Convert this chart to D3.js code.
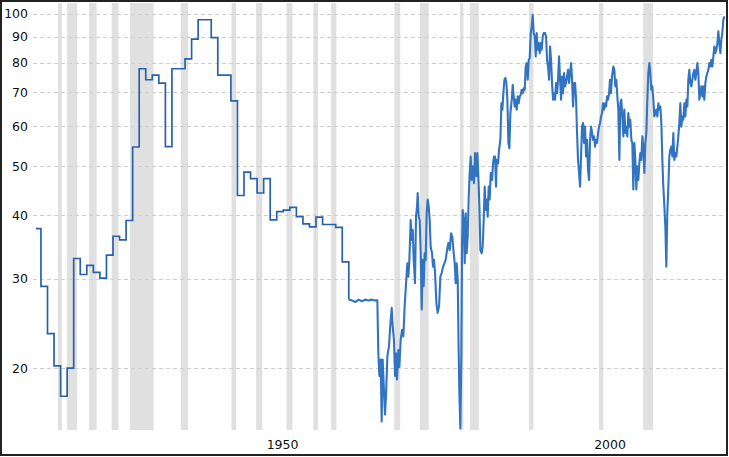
<!DOCTYPE html>
<html>
<head>
<meta charset="utf-8">
<script src="https://cdn.jsdelivr.net/npm/d3@7/dist/d3.min.js"></script>
<style>
  html, body { margin: 0; padding: 0; background: #fff; }
  svg { display: block; }
</style>
</head>
<body>
<svg id="chart" width="729" height="457"></svg>
<script>
// ---- Data ----
const yTicks = [20, 30, 40, 50, 60, 70, 80, 90, 100];
const xTickYears = [1950, 2000];

const recessionStart = [1918.6, 1920.0, 1923.35, 1926.8, 1929.6, 1937.35, 1945.1, 1948.85, 1953.5, 1957.6, 1960.3, 1969.95, 1973.85, 1980.0, 1981.5, 1990.5, 2001.2, 2007.95];
const recessionEnd   = [1919.2, 1921.5, 1924.5, 1927.85, 1933.2, 1938.45, 1945.8, 1949.8, 1954.4, 1958.3, 1961.1, 1970.85, 1975.2, 1980.5, 1982.85, 1991.2, 2001.85, 2009.45];

// annual values (drawn as steps)
const stepYears  = [1915.25, 1916, 1917, 1918, 1919, 1920, 1921, 1922, 1923, 1924, 1925, 1926, 1927, 1928, 1929, 1930, 1931, 1932, 1933, 1934, 1935, 1936, 1938, 1939, 1940, 1942, 1943, 1945, 1946, 1947, 1948, 1949, 1950, 1951, 1952, 1953, 1954, 1955, 1956, 1957, 1958, 1959, 1961, 1962, 1963];
const stepValues = [37.7, 29.0, 23.4, 20.2, 17.6, 20.0, 32.9, 30.6, 31.9, 30.9, 30.1, 33.4, 36.4, 35.8, 39.1, 54.6, 77.9, 74.1, 75.7, 73.0, 54.7, 77.9, 81.5, 89.1, 97.3, 89.7, 75.7, 67.3, 43.8, 48.7, 47.3, 44.3, 47.3, 39.2, 40.7, 41.0, 41.5, 39.8, 38.5, 38.0, 39.7, 38.4, 37.9, 32.4, 27.3];

// monthly values
const monthYears = [
  1963.0, 1963.5, 1964.0, 1964.5, 1965.0, 1965.5, 1966.0, 1966.5, 1966.9, 1967.36,
  1967.51, 1967.67, 1967.87, 1968.02, 1968.17, 1968.38, 1968.53, 1968.68, 1968.89, 1969.14,
  1969.29, 1969.55, 1969.70, 1969.90, 1970.06, 1970.21, 1970.36, 1970.57, 1970.72, 1970.92,
  1971.13, 1971.33, 1971.53, 1971.74, 1971.94, 1972.09, 1972.25, 1972.45, 1972.60, 1972.76,
  1972.91, 1973.11, 1973.26, 1973.42, 1973.52, 1973.67, 1973.82, 1973.98, 1974.13, 1974.28,
  1974.43, 1974.59, 1974.74, 1974.89, 1975.05, 1975.20, 1975.35, 1975.50, 1975.71, 1975.86,
  1976.01, 1976.17, 1976.37, 1976.57, 1976.78, 1976.98, 1977.18, 1977.39, 1977.59, 1977.79,
  1978.00, 1978.20, 1978.41, 1978.61, 1978.81, 1978.97, 1979.17, 1979.32, 1979.47, 1979.63,
  1979.78, 1979.88, 1980.03, 1980.19, 1980.29, 1980.39, 1980.54, 1980.70, 1980.85, 1981.00,
  1981.15, 1981.31, 1981.46, 1981.61, 1981.76, 1981.92, 1982.12, 1982.27, 1982.48, 1982.63,
  1982.78, 1982.94, 1983.09, 1983.29, 1983.44, 1983.60, 1983.75, 1983.90, 1984.06, 1984.21,
  1984.36, 1984.51, 1984.67, 1984.87, 1985.02, 1985.17, 1985.33, 1985.48, 1985.58, 1985.79,
  1985.94, 1986.14, 1986.30, 1986.45, 1986.60, 1986.76, 1986.91, 1987.06, 1987.21, 1987.37,
  1987.52, 1987.67, 1987.88, 1988.03, 1988.18, 1988.33, 1988.49, 1988.64, 1988.79, 1988.94,
  1989.10, 1989.25, 1989.40, 1989.55, 1989.71, 1989.86, 1990.01, 1990.17, 1990.32, 1990.47,
  1990.62, 1990.78, 1990.93, 1991.08, 1991.23, 1991.39, 1991.54, 1991.69, 1991.85, 1992.00,
  1992.15, 1992.30, 1992.46, 1992.61, 1992.76, 1992.97, 1993.12, 1993.27, 1993.42, 1993.58,
  1993.73, 1993.88, 1994.03, 1994.19, 1994.34, 1994.49, 1994.64, 1994.80, 1994.95, 1995.10,
  1995.26, 1995.41, 1995.56, 1995.71, 1995.87, 1996.02, 1996.17, 1996.32, 1996.48, 1996.63,
  1996.78, 1996.94, 1997.09, 1997.24, 1997.39, 1997.55, 1997.70, 1997.85, 1998.00, 1998.16,
  1998.31, 1998.46, 1998.61, 1998.77, 1998.92, 1999.07, 1999.23, 1999.38, 1999.53, 1999.68,
  1999.84, 1999.99, 2000.14, 2000.29, 2000.45, 2000.60, 2000.75, 2000.91, 2001.06, 2001.21,
  2001.36, 2001.52, 2001.67, 2001.82, 2001.97, 2002.13, 2002.28, 2002.43, 2002.58, 2002.74,
  2002.88, 2003.03, 2003.19, 2003.39, 2003.54, 2003.69, 2003.85, 2004.00, 2004.15, 2004.31,
  2004.46, 2004.61, 2004.76, 2004.92, 2005.07, 2005.22, 2005.37, 2005.53, 2005.68, 2005.83,
  2005.98, 2006.14, 2006.29, 2006.44, 2006.60, 2006.75, 2006.90, 2007.05, 2007.21, 2007.36,
  2007.51, 2007.66, 2007.82, 2007.97, 2008.12, 2008.28, 2008.43, 2008.58, 2008.73, 2008.89,
  2009.04, 2009.19, 2009.34, 2009.50, 2009.65, 2009.80, 2009.95, 2010.11, 2010.26, 2010.41,
  2010.57, 2010.72, 2010.87, 2011.02, 2011.18, 2011.33, 2011.48, 2011.63, 2011.79, 2011.94,
  2012.09, 2012.24, 2012.40, 2012.55, 2012.70, 2012.86, 2013.01, 2013.16, 2013.31, 2013.47,
  2013.62, 2013.77, 2013.92, 2014.08, 2014.23, 2014.38, 2014.54, 2014.69, 2014.84, 2014.99,
  2015.15, 2015.30, 2015.45, 2015.61, 2015.76, 2015.91, 2016.06, 2016.22, 2016.37, 2016.52,
  2016.67, 2016.83, 2016.98, 2017.13, 2017.28, 2017.44, 2017.59, 2017.74, 2017.90, 2018.05,
  2018.20, 2018.35, 2018.51, 2018.66, 2018.81, 2018.96, 2019.12, 2019.27, 2019.42, 2019.57,
  2019.73, 2019.88, 2020.03, 2020.18, 2020.34
];
const monthValues = [
  27.3, 27.2, 27.0, 27.3, 27.1, 27.3, 27.2, 27.3, 27.2, 27.2,
  21.4, 19.3, 20.8, 15.7, 20.8, 17.9, 16.2, 17.6, 21.1, 22.1,
  23.8, 26.3, 24.2, 22.7, 19.3, 21.4, 19.0, 21.7, 20.1, 22.7,
  23.8, 23.1, 26.5, 29.4, 32.2, 30.3, 32.7, 39.2, 35.8, 37.5,
  32.7, 29.4, 39.8, 41.7, 44.3, 39.8, 39.2, 33.7, 26.1, 32.7,
  29.0, 33.7, 32.7, 40.4, 43.0, 41.7, 39.2, 34.7, 33.7, 31.7,
  32.7, 30.8, 26.9, 25.7, 26.5, 30.3, 30.8, 31.7, 32.2, 32.7,
  34.2, 35.3, 34.2, 36.9, 36.3, 34.2, 32.2, 29.4, 32.2, 29.9,
  21.4, 17.9, 15.2, 21.4, 34.7, 41.0, 39.2, 32.2, 40.4, 33.7,
  36.3, 43.6, 48.5, 52.3, 47.0, 50.0, 46.3, 53.1, 47.8, 53.1,
  47.8, 41.7, 34.2, 33.7, 34.7, 39.2, 45.6, 41.0, 43.0, 39.8,
  45.6, 43.0, 48.5, 47.0, 50.7, 52.3, 52.3, 45.6, 51.5, 50.7,
  53.9, 56.4, 66.6, 64.7, 69.7, 74.1, 74.7, 73.0, 67.7, 55.6,
  54.3, 63.7, 67.7, 72.4, 68.7, 65.6, 67.7, 64.7, 68.7, 66.6,
  68.7, 69.2, 70.8, 69.7, 71.3, 70.8, 78.7, 79.9, 74.1, 81.1,
  81.8, 91.6, 94.4, 99.5, 91.6, 90.2, 82.4, 91.6, 84.9, 87.5,
  83.6, 87.5, 84.9, 90.2, 91.6, 91.6, 90.2, 81.1, 78.7, 74.1,
  86.2, 81.1, 73.0, 67.7, 69.7, 67.7, 73.0, 69.7, 74.1, 82.4,
  74.1, 67.7, 75.2, 69.7, 76.4, 71.9, 73.0, 75.2, 77.5, 73.0,
  76.4, 79.9, 74.1, 65.6, 73.0, 73.0, 67.7, 58.2, 51.5, 48.5,
  45.6, 52.3, 59.9, 60.9, 55.6, 59.9, 52.3, 56.4, 49.2, 47.0,
  56.4, 59.9, 58.2, 56.4, 57.3, 54.7, 56.4, 55.6, 58.2, 59.9,
  60.9, 62.7, 63.7, 66.6, 64.7, 66.6, 65.6, 68.7, 67.7, 69.7,
  74.1, 69.7, 75.2, 78.7, 77.5, 71.9, 74.1, 68.7, 64.7, 51.5,
  66.6, 67.7, 62.7, 57.3, 64.7, 58.2, 59.9, 57.3, 63.7, 59.9,
  61.8, 56.4, 55.6, 45.0, 55.6, 51.5, 45.0, 50.0, 47.0, 50.7,
  53.1, 51.5, 57.3, 54.7, 48.5, 55.6, 58.2, 67.7, 76.4, 79.9,
  76.4, 70.8, 71.9, 67.7, 62.7, 63.7, 64.7, 62.7, 66.6, 64.7,
  65.6, 60.9, 51.5, 45.6, 41.7, 38.0, 31.7, 40.4, 45.6, 52.3,
  53.9, 54.7, 52.3, 58.2, 51.5, 53.1, 52.3, 54.7, 57.3, 60.9,
  66.6, 59.9, 62.7, 61.8, 66.6, 62.7, 67.7, 65.6, 74.1, 77.5,
  73.0, 71.9, 74.1, 76.4, 77.5, 74.1, 76.4, 79.9, 76.4, 67.7,
  69.7, 71.9, 68.7, 71.9, 67.7, 73.0, 75.2, 76.4, 77.5, 79.9,
  78.7, 81.1, 78.7, 82.4, 86.2, 83.6, 84.9, 87.5, 92.3, 87.5,
  83.6, 88.9, 91.6, 97.3, 98.8
];

// ---- Layout ----
const W = 729, H = 457;
const plotLeft = 34, plotRight = 726, plotTop = 3, plotBottom = 430;

const svg = d3.select("#chart");

const x = d3.scaleLinear().domain([1914.94, 2020.59]).range([plotLeft, plotRight]);
const y = d3.scaleLog().domain([15.1, 105]).range([plotBottom, plotTop]);

// recession bars
svg.append("g").selectAll("rect")
  .data(recessionStart.map((s, i) => ({ s, e: recessionEnd[i] })))
  .join("rect")
  .attr("x", d => x(d.s))
  .attr("width", d => Math.max(2.5, x(d.e) - x(d.s)))
  .attr("y", plotTop)
  .attr("height", plotBottom - plotTop)
  .attr("fill", "#e0e0e0");

// horizontal dashed gridlines
svg.append("g").selectAll("line")
  .data(yTicks)
  .join("line")
  .attr("x1", 33).attr("x2", 727)
  .attr("y1", d => Math.round(y(d)) + 0.5)
  .attr("y2", d => Math.round(y(d)) + 0.5)
  .attr("stroke", "#cfcfcf")
  .attr("stroke-width", 1)
  .attr("stroke-dasharray", "4,3");

// y axis labels
svg.append("g").selectAll("text")
  .data(yTicks)
  .join("text")
  .attr("x", 28)
  .attr("y", d => y(d))
  .attr("dy", "0.36em")
  .attr("text-anchor", "end")
  .attr("font-family", "DejaVu Sans, Verdana, sans-serif")
  .attr("font-size", 12.5)
  .attr("fill", "#111")
  .text(d => d);

// x axis labels
svg.append("g").selectAll("text")
  .data(xTickYears)
  .join("text")
  .attr("x", d => x(d) + 3)
  .attr("y", 449)
  .attr("text-anchor", "start")
  .attr("font-family", "DejaVu Sans, Verdana, sans-serif")
  .attr("font-size", 12.5)
  .attr("fill", "#111")
  .text(d => d);

const stepData = stepYears.map((t, i) => ({ t, v: stepValues[i] }));
const monthData = monthYears.map((t, i) => ({ t, v: monthValues[i] }));

// annual part (steps)
svg.append("path")
  .datum(stepData)
  .attr("fill", "none")
  .attr("stroke", "#2862ab")
  .attr("stroke-width", 1.7)
  .attr("d", d3.line().x(d => x(d.t)).y(d => y(d.v)).curve(d3.curveStepAfter));

// monthly part
svg.append("path")
  .datum(monthData)
  .attr("fill", "none")
  .attr("stroke", "#3274c2")
  .attr("stroke-width", 2.1)
  .attr("stroke-linejoin", "round")
  .attr("d", d3.line().x(d => x(d.t)).y(d => y(d.v)));

// outer frame
svg.append("rect")
  .attr("x", 1).attr("y", 1)
  .attr("width", W - 3).attr("height", H - 3)
  .attr("fill", "none")
  .attr("stroke", "#222")
  .attr("stroke-width", 2);
</script>
</body>
</html>
